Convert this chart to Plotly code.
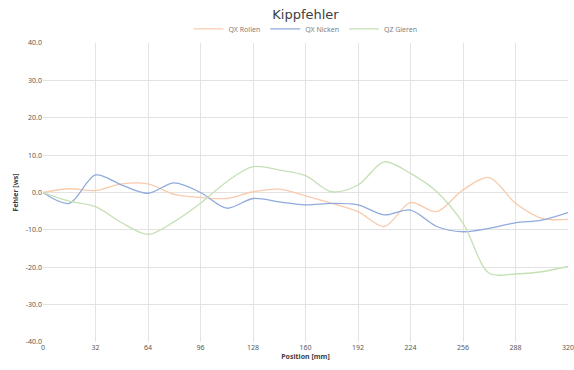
import plotly.graph_objects as go

position = [0, 16, 32, 48, 64, 80, 96, 112, 128, 144, 160, 176, 192, 208, 224, 240, 256, 272, 288, 304, 320]
qx_rollen = [0, 1.0, 0.5, 2.3, 2.3, -0.5, -1.3, -1.6, 0.2, 0.9, -0.9, -2.9, -5.1, -9.1, -2.7, -5.1, 0.7, 4.0, -2.9, -6.9, -7.2]
qx_nicken = [0, -2.9, 4.7, 2.0, -0.2, 2.6, 0.0, -4.2, -1.6, -2.5, -3.3, -2.9, -3.3, -6.0, -4.7, -9.1, -10.5, -9.6, -8.1, -7.4, -5.4]
qz_gieren = [0, -2.3, -3.8, -8.1, -11.2, -7.8, -2.9, 2.9, 6.9, 6.0, 4.5, 0.2, 2.0, 8.2, 5.1, 0.2, -8.2, -21.6, -21.8, -21.2, -19.8]

x_ticks = [0, 32, 64, 96, 128, 160, 192, 224, 256, 288, 320]
y_ticks = [-40, -30, -20, -10, 0, 10, 20, 30, 40]
y_ticktext = ["-40.0", "-30.0", "-20.0", "-10.0", "0.0", "10.0", "20.0", "30.0", "40.0"]

series = [
    ("QX Rollen", qx_rollen, "#F8CBAD"),
    ("QX Nicken", qx_nicken, "#8FAADC"),
    ("QZ Gieren", qz_gieren, "#C5E0B4"),
]

fig = go.Figure()
for name, vals, col in series:
    fig.add_trace(go.Scatter(x=position, y=vals, name=name, mode="lines",
                             line=dict(color=col, width=1.3, shape="spline", smoothing=0.9)))

font = "Noto Sans"
fig.update_layout(
    width=574, height=370,
    margin=dict(l=43, r=6, t=43, b=28, autoexpand=False),
    paper_bgcolor="white", plot_bgcolor="white",
    font=dict(family=font, size=7, color="#595959"),
    title=dict(text="Kippfehler", x=0.5, xanchor="center", xref="paper",
               yref="container", y=0.96, yanchor="middle",
               font=dict(family="DejaVu Sans", size=13, color="#404040")),
    legend=dict(orientation="h", x=0.5, xanchor="center", y=1.047, yanchor="middle",
                font=dict(size=7, color="#7f7f7f"), itemwidth=30, tracegroupgap=0),
    showlegend=True,
)
fig.update_xaxes(range=[0, 320], tickvals=x_ticks, showgrid=True, gridcolor="#E3E3E3",
                 zeroline=False, showline=False, ticks="", tickfont=dict(size=7, color="#595959"),
                 automargin=False, ticklabeloverflow="allow",
                 title=dict(text="<b>Position [mm]</b>", font=dict(size=7, color="#404040"), standoff=3))
fig.update_yaxes(range=[-40, 40], tickvals=y_ticks, ticktext=y_ticktext, showgrid=True,
                 gridcolor="#E3E3E3", zeroline=False, showline=False, ticks="", tickfont=dict(size=7, color="#595959"),
                 automargin=False,
                 title=dict(text="<b>Fehler [ws]</b>", font=dict(size=7, color="#404040"), standoff=6))

fig.write_html("out.html", config={"displayModeBar": False},
               post_script="document.body.style.margin='0';")
